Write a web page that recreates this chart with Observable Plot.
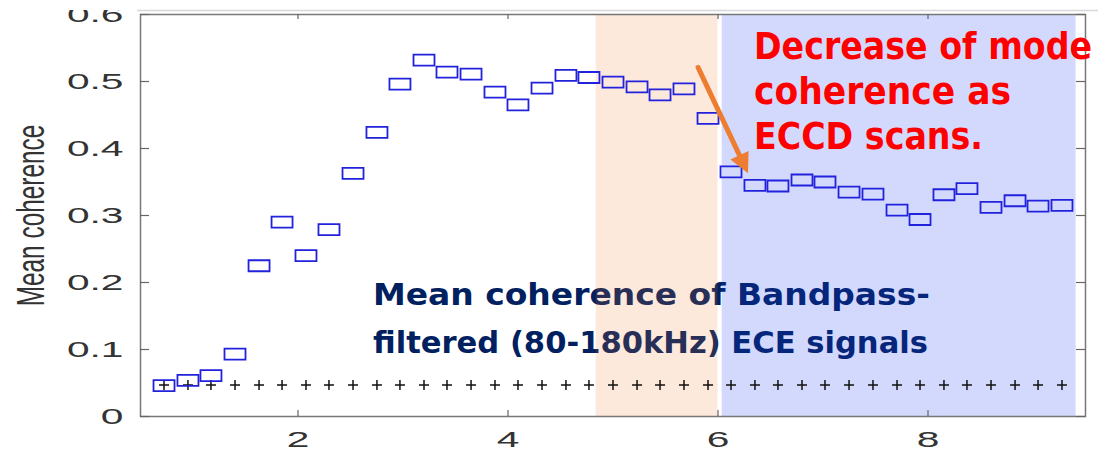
<!DOCTYPE html>
<html><head><meta charset="utf-8">
<script src="https://cdn.jsdelivr.net/npm/d3@7"></script>
<script src="https://cdn.jsdelivr.net/npm/@observablehq/plot@0.6"></script>
<style>html,body{margin:0;padding:0;background:#fff;overflow:hidden}</style>
</head><body><div id="chart"></div>
<script>
// ---- data ----
const scanTime = [0.724,0.952,1.171,1.400,1.629,1.848,2.076,2.295,2.524,2.752,2.971,3.200,3.419,3.648,3.876,4.095,4.324,4.552,4.771,5.000,5.229,5.448,5.676,5.905,6.124,6.352,6.571,6.800,7.019,7.248,7.476,7.705,7.924,8.152,8.371,8.600,8.829,9.048,9.276];
const meanCoherence = [0.046,0.054,0.061,0.093,0.225,0.290,0.240,0.279,0.363,0.424,0.496,0.532,0.514,0.511,0.484,0.465,0.490,0.509,0.506,0.499,0.492,0.480,0.489,0.445,0.365,0.345,0.344,0.353,0.350,0.335,0.332,0.308,0.294,0.331,0.340,0.312,0.322,0.314,0.315];
const noiseLevel = [0.047,0.047,0.047,0.047,0.047,0.047,0.047,0.047,0.047,0.047,0.047,0.047,0.047,0.047,0.047,0.047,0.047,0.047,0.047,0.047,0.047,0.047,0.047,0.047,0.047,0.047,0.047,0.047,0.047,0.047,0.047,0.047,0.047,0.047,0.047,0.047,0.047,0.047,0.047];
const xTicks = [2, 4, 6, 8];
const yTicks = [0, 0.1, 0.2, 0.3, 0.4, 0.5, 0.6];
const bandStart = [4.84, 6.04];
const bandEnd = [6.0, 9.41];
const yLabel = "Mean coherence";
const navyLines = ["Mean coherence of Bandpass-", "filtered (80-180kHz) ECE signals"];
const navyX = [2.714, 2.714];
const navyY = [0.166, 0.095];
const redLines = ["Decrease of mode", "coherence as", "ECCD scans."];
const redX = [6.343, 6.343, 6.343];
const redY = [0.534, 0.466, 0.400];
const arrowFrom = [5.81, 0.521];
const arrowTo = [6.286, 0.363];

// ---- layout ----
const W = 1106, H = 453, mL = 140, mR = 21, mT = 14, mB = 37;
const iw = W - mL - mR, ih = H - mT - mB;

const rectSymbol = {draw(ctx) { ctx.moveTo(-10.5,-5.5); ctx.lineTo(10.5,-5.5); ctx.lineTo(10.5,5.5); ctx.lineTo(-10.5,5.5); ctx.closePath(); }};
const plusSymbol = {draw(ctx) { ctx.moveTo(-5,0); ctx.lineTo(5,0); ctx.moveTo(0,-5); ctx.lineTo(0,5); }};
// filled arrow head, tip at origin, pointing down-right along the arrow
const headAngle = Math.atan2(106, 50);
const headSymbol = {draw(ctx) {
  const L = 20, hw = 10, c = Math.cos(headAngle), s = Math.sin(headAngle);
  const pt = (u, v) => [-u * c - v * s, -u * s + v * c];
  const a = pt(L, hw), b = pt(L, -hw);
  ctx.moveTo(0, 0); ctx.lineTo(a[0], a[1]); ctx.lineTo(b[0], b[1]); ctx.closePath();
}};
const idx = scanTime.map((_, i) => i);

const annoFont = "DejaVu Sans, Lato, sans-serif";

const chart = Plot.plot({
  width: W, height: H,
  marginLeft: mL, marginRight: mR, marginTop: mT, marginBottom: mB,
  style: {fontFamily: "Liberation Sans, Arial, sans-serif", background: "#fff"},
  x: {domain: [0.5, 9.5]},
  y: {domain: [0, 0.6]},
  marks: [
    Plot.text(navyLines, {x: (d, i) => navyX[i], y: (d, i) => navyY[i], text: d => d, textAnchor: "start", lineAnchor: "bottom",
      fontSize: 30, fontWeight: "bold", fill: "#002060", fontFamily: annoFont}),
    Plot.rect([0], {x1: () => bandStart[0], x2: () => bandEnd[0], fill: "#ed7d31", fillOpacity: 0.17}),
    Plot.rect([0], {x1: () => bandStart[1], x2: () => bandEnd[1], fill: "#2040f0", fillOpacity: 0.2}),
    Plot.frame({stroke: "#777", strokeWidth: 1.5}),
    Plot.tickY(yTicks, {y: d => d, insetRight: iw - 9, stroke: "#666", strokeWidth: 1.2}),
    Plot.tickY(yTicks, {y: d => d, insetLeft: iw - 9, stroke: "#666", strokeWidth: 1.2}),
    Plot.tickX(xTicks, {x: d => d, insetTop: ih - 6, stroke: "#666", strokeWidth: 1.2}),
    Plot.tickX(xTicks, {x: d => d, insetBottom: ih - 5, stroke: "#666", strokeWidth: 1.2}),
    Plot.axisY({ticks: yTicks, tickSize: 0, tickPadding: 17, fontSize: 22, color: "#333",
      tickFormat: d => d === 0 ? "0" : d.toFixed(1)}),
    Plot.axisX({ticks: xTicks, tickSize: 0, tickPadding: 15, fontSize: 22, color: "#333", label: null}),
    Plot.text([yLabel], {frameAnchor: "left", dx: 43 - mL, rotate: -90, text: d => d, textAnchor: "middle", lineAnchor: "bottom",
      fontSize: 24.4, fill: "#333"}),
    Plot.dot(idx, {x: i => scanTime[i], y: i => noiseLevel[i], symbol: plusSymbol, fill: "none", stroke: "#111", strokeWidth: 1.5}),
    Plot.dot(idx, {x: i => scanTime[i], y: i => meanCoherence[i], symbol: rectSymbol, fill: "none", stroke: "#2222dd", strokeWidth: 1.8}),
    Plot.text(redLines, {x: (d, i) => redX[i], y: (d, i) => redY[i], text: d => d, textAnchor: "start", lineAnchor: "bottom",
      fontSize: 38, fontWeight: "bold", fill: "#ff0000", fontFamily: annoFont}),
    Plot.arrow([0], {x1: () => arrowFrom[0], y1: () => arrowFrom[1], x2: () => arrowTo[0], y2: () => arrowTo[1],
      stroke: "#ed7d31", strokeWidth: 5, headLength: 0, insetEnd: 16}),
    Plot.dot([0], {x: () => arrowTo[0], y: () => arrowTo[1], symbol: headSymbol, fill: "#ed7d31", stroke: "none"})
  ]
});

document.getElementById("chart").appendChild(chart);
const sel = d3.select(chart);
const addT = (s, extra) => s.each(function() { const t = this.getAttribute("transform") || ""; this.setAttribute("transform", t + " " + extra); });
addT(sel.selectAll('g[aria-label="y-axis tick label"] text'), "scale(1.85,1)");
addT(sel.selectAll('g[aria-label="x-axis tick label"] text'), "scale(1.85,1)");
sel.selectAll("text").each(function() {
  if (this.textContent === yLabel) this.setAttribute("transform", (this.getAttribute("transform") || "") + " scale(1,1.6)");
});
const widths = {"Mean coherence of Bandpass-": 557, "filtered (80-180kHz) ECE signals": 555,
  "Decrease of mode": 338, "coherence as": 257, "ECCD scans.": 229};
sel.selectAll("text").each(function() {
  const w = widths[this.textContent];
  if (w) { this.setAttribute("textLength", w); this.setAttribute("lengthAdjust", "spacingAndGlyphs"); }
});
// cropped top strip of the original slide
sel.append("rect").attr("x", 0).attr("y", 0).attr("width", W).attr("height", 10).attr("fill", "#fff");
sel.append("line").attr("x1", 137).attr("x2", 1098).attr("y1", 10.5).attr("y2", 10.5).attr("stroke", "#d8d8d8").attr("stroke-width", 1.5);
</script></body></html>
